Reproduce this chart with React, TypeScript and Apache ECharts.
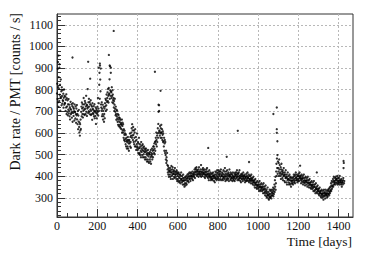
import React, { useEffect, useRef } from "react";
import * as echarts from "echarts";

// Dark rate per PMT (counts / s): each block covers 10 days, values spread over the block
const blockDays = 10;
const rateBlocks: number[][] = [
  [783, 828, 757, 897, 742, 812, 721, 858],
  [804, 748, 918, 777, 823, 703, 766, 847],
  [762, 793, 728, 811, 771, 736, 798, 752],
  [748, 782, 717, 763, 801, 731, 772, 739],
  [737, 768, 702, 754, 718, 779, 688, 761],
  [723, 698, 751, 682, 733, 709, 757, 691],
  [702, 731, 677, 719, 663, 712, 744, 687],
  [708, 692, 733, 671, 698, 724, 652, 738],
  [693, 718, 679, 712, 701, 658, 732, 697],
  [698, 667, 723, 688, 647, 713, 682, 729],
  [663, 688, 641, 702, 618, 681, 653, 707],
  [628, 603, 648, 588, 641, 612, 662, 619],
  [698, 722, 677, 741, 713, 688, 733, 672],
  [718, 703, 762, 687, 732, 708, 683, 748],
  [712, 739, 688, 723, 772, 698, 731, 679],
  [728, 713, 803, 719, 692, 742, 701, 758],
  [722, 698, 743, 687, 733, 709, 752, 683],
  [703, 728, 687, 722, 661, 738, 712, 693],
  [708, 688, 724, 677, 702, 733, 668, 697],
  [702, 679, 718, 642, 693, 711, 668, 703],
  [688, 722, 697, 762, 681, 713, 738, 702],
  [823, 878, 758, 912, 847, 793, 898, 732],
  [718, 703, 742, 678, 712, 687, 731, 662],
  [702, 678, 721, 652, 688, 713, 668, 738],
  [723, 758, 702, 752, 728, 778, 708, 743],
  [762, 788, 748, 803, 772, 741, 808, 778],
  [783, 848, 758, 908, 797, 772, 878, 792],
  [788, 762, 812, 771, 742, 798, 778, 753],
  [738, 762, 718, 748, 702, 731, 758, 712],
  [698, 682, 722, 688, 661, 708, 678, 703],
  [668, 652, 688, 638, 662, 683, 631, 672],
  [652, 638, 668, 628, 661, 622, 648, 642],
  [638, 618, 662, 602, 633, 648, 612, 641],
  [602, 578, 618, 568, 592, 611, 562, 598],
  [572, 548, 592, 538, 578, 562, 528, 568],
  [558, 538, 582, 528, 568, 552, 518, 561],
  [568, 552, 598, 538, 582, 558, 532, 588],
  [602, 622, 578, 641, 588, 612, 568, 628],
  [592, 558, 612, 548, 578, 602, 538, 618],
  [562, 538, 582, 522, 568, 548, 598, 532],
  [538, 522, 558, 508, 552, 528, 578, 502],
  [532, 508, 548, 498, 538, 518, 488, 558],
  [528, 512, 542, 498, 522, 548, 488, 532],
  [518, 502, 538, 488, 512, 528, 478, 522],
  [512, 488, 528, 478, 502, 518, 468, 508],
  [498, 478, 522, 468, 492, 508, 462, 502],
  [502, 478, 512, 468, 488, 522, 458, 498],
  [508, 492, 528, 478, 502, 518, 488, 538],
  [522, 538, 508, 552, 528, 502, 558, 518],
  [562, 578, 548, 602, 568, 538, 588, 558],
  [598, 622, 578, 642, 698, 602, 728, 612],
  [608, 588, 632, 598, 578, 622, 602, 638],
  [602, 578, 618, 568, 592, 608, 558, 598],
  [562, 538, 578, 518, 552, 568, 508, 558],
  [498, 478, 518, 462, 488, 472, 508, 452],
  [432, 418, 448, 408, 438, 398, 428, 422],
  [422, 408, 438, 398, 428, 388, 418, 448],
  [418, 402, 432, 408, 442, 388, 422, 412],
  [412, 428, 398, 422, 392, 438, 408, 418],
  [408, 398, 422, 388, 428, 412, 378, 418],
  [402, 388, 412, 378, 418, 398, 372, 408],
  [392, 378, 408, 368, 402, 388, 418, 382],
  [388, 372, 402, 378, 362, 392, 408, 382],
  [378, 362, 392, 352, 382, 368, 398, 358],
  [382, 392, 368, 402, 362, 388, 378, 408],
  [392, 398, 378, 412, 372, 402, 388, 418],
  [398, 388, 412, 378, 402, 418, 392, 402],
  [402, 412, 388, 422, 398, 382, 408, 402],
  [412, 418, 398, 432, 408, 392, 422, 438],
  [418, 432, 408, 442, 422, 402, 428, 412],
  [422, 408, 432, 398, 418, 442, 412, 422],
  [408, 422, 402, 432, 412, 452, 398, 418],
  [422, 408, 432, 402, 418, 438, 412, 428],
  [412, 418, 398, 432, 408, 392, 422, 408],
  [418, 402, 432, 408, 422, 438, 398, 412],
  [408, 392, 422, 402, 382, 412, 428, 398],
  [402, 408, 392, 418, 382, 398, 412, 388],
  [398, 388, 412, 382, 402, 418, 392, 402],
  [402, 378, 408, 392, 372, 398, 422, 388],
  [408, 392, 418, 382, 402, 428, 388, 412],
  [398, 418, 392, 428, 382, 408, 402, 422],
  [412, 388, 422, 398, 432, 382, 408, 402],
  [402, 418, 388, 412, 382, 398, 428, 392],
  [408, 398, 422, 388, 438, 402, 378, 412],
  [398, 422, 388, 408, 382, 428, 402, 392],
  [412, 388, 418, 402, 378, 408, 432, 398],
  [402, 408, 388, 418, 382, 398, 412, 392],
  [392, 408, 378, 402, 418, 388, 398, 382],
  [398, 392, 412, 378, 402, 418, 388, 408],
  [408, 398, 418, 392, 428, 402, 382, 412],
  [398, 412, 388, 418, 382, 402, 428, 392],
  [392, 402, 378, 408, 372, 398, 388, 412],
  [402, 388, 408, 378, 398, 418, 392, 402],
  [388, 402, 382, 408, 372, 392, 398, 378],
  [398, 388, 412, 378, 402, 382, 418, 392],
  [392, 398, 378, 408, 372, 388, 402, 382],
  [388, 378, 402, 368, 392, 408, 382, 388],
  [378, 368, 392, 362, 382, 398, 372, 378],
  [372, 358, 382, 348, 368, 388, 362, 372],
  [362, 348, 372, 342, 358, 378, 352, 362],
  [358, 342, 372, 348, 332, 362, 378, 352],
  [352, 338, 362, 332, 348, 368, 342, 352],
  [348, 332, 362, 338, 322, 352, 368, 342],
  [338, 322, 352, 328, 312, 342, 358, 332],
  [322, 308, 338, 302, 328, 318, 348, 312],
  [312, 298, 328, 292, 318, 308, 338, 302],
  [318, 302, 332, 308, 338, 298, 322, 312],
  [328, 312, 338, 322, 348, 308, 332, 318],
  [342, 362, 328, 382, 352, 398, 338, 368],
  [422, 458, 402, 482, 438, 498, 412, 468],
  [438, 422, 462, 402, 478, 432, 452, 412],
  [418, 402, 442, 388, 432, 458, 408, 422],
  [412, 392, 428, 382, 418, 402, 438, 408],
  [402, 378, 418, 372, 408, 392, 428, 398],
  [392, 372, 408, 362, 398, 382, 418, 388],
  [388, 372, 402, 362, 382, 408, 368, 392],
  [382, 362, 398, 352, 378, 392, 368, 382],
  [378, 368, 392, 362, 398, 382, 408, 372],
  [388, 378, 402, 368, 408, 392, 418, 382],
  [392, 398, 382, 408, 372, 388, 402, 378],
  [402, 388, 412, 378, 398, 418, 392, 402],
  [392, 382, 402, 368, 388, 408, 378, 392],
  [388, 372, 402, 362, 392, 378, 408, 372],
  [382, 368, 392, 358, 378, 398, 372, 382],
  [378, 362, 392, 372, 352, 382, 398, 368],
  [372, 358, 382, 348, 368, 388, 362, 372],
  [362, 348, 372, 342, 358, 378, 352, 362],
  [358, 342, 372, 348, 332, 362, 378, 352],
  [352, 332, 362, 338, 322, 348, 368, 342],
  [342, 328, 352, 322, 338, 358, 332, 342],
  [332, 318, 342, 312, 328, 348, 322, 332],
  [322, 308, 332, 302, 318, 338, 312, 322],
  [318, 302, 332, 308, 292, 322, 338, 312],
  [322, 308, 328, 298, 318, 338, 312, 322],
  [318, 312, 332, 302, 322, 308, 338, 318],
  [332, 318, 342, 312, 328, 348, 322, 332],
  [352, 338, 368, 332, 358, 378, 342, 352],
  [372, 358, 388, 352, 378, 398, 362, 372],
  [378, 368, 392, 362, 382, 398, 372, 388],
  [382, 388, 368, 402, 362, 378, 392, 372],
  [378, 368, 392, 362, 382, 402, 372, 378],
  [372, 382, 362, 388, 368, 352, 378, 372],
  [372, 362, 382, 392, 438, 462, 368, 378],
];

// isolated high points
const outlierDays = [5, 8, 12, 77, 155, 165, 208, 213, 258, 262, 268, 282, 487, 505, 508, 515, 752, 844, 899, 955, 1076, 1093, 1093, 1093, 1096, 1209, 1292, 1425];
const outlierRates = [928, 958, 902, 949, 929, 851, 902, 921, 961, 912, 902, 1072, 883, 731, 702, 795, 531, 490, 610, 466, 688, 718, 618, 601, 562, 449, 418, 471];

const xTickValues = [0, 200, 400, 600, 800, 1000, 1200, 1400];
const yTickValues = [300, 400, 500, 600, 700, 800, 900, 1000, 1100];
const yMinorTickValues = [220, 240, 260, 280, 320, 340, 360, 380, 420, 440, 460, 480, 520, 540, 560, 580, 620, 640, 660, 680, 720, 740, 760, 780, 820, 840, 860, 880, 920, 940, 960, 980, 1020, 1040, 1060, 1080, 1120, 1140];
const xMin = 0;
const xMax = 1472;
const yMin = 212;
const yMax = 1150;

const FONT = "Liberation Serif";

export default function App() {
  const ref = useRef<HTMLDivElement>(null);
  useEffect(() => {
    if (!ref.current) return;
    const chart = echarts.init(ref.current, null, { renderer: "svg" });
    const points: number[][] = [];
    rateBlocks.forEach((vals, b) => {
      vals.forEach((v, j) => {
        points.push([b * blockDays + (j * blockDays) / vals.length, v]);
      });
    });
    outlierDays.forEach((d, i) => points.push([d, outlierRates[i]]));

    const axisColor = "#333";
    const gridLine = { show: true, lineStyle: { color: "#b8b8b8", width: 1, type: [2, 2] } };
    const labelStyle = {
      fontFamily: FONT,
      fontSize: 12,
      color: "#111",
      formatter: (v: number) => String(v),
    };

    chart.setOption({
      animation: false,
      backgroundColor: "#fff",
      textStyle: { fontFamily: FONT },
      grid: {
        left: 57,
        right: 21,
        top: 14,
        bottom: 39,
        show: true,
        borderColor: axisColor,
        borderWidth: 1,
        containLabel: false,
        outerBoundsMode: "none",
      },
      xAxis: [
        {
          type: "value",
          min: xMin,
          max: xMax,
          interval: 200,
          axisLine: { show: true, onZero: false, lineStyle: { color: axisColor } },
          axisTick: { show: true, inside: true, length: 8, customValues: xTickValues, lineStyle: { color: axisColor } },
          minorTick: { show: true, splitNumber: 4, length: 4, lineStyle: { color: axisColor } },
          axisLabel: { ...labelStyle, margin: 3, customValues: xTickValues },
          splitLine: gridLine,
        },
      ],
      yAxis: [
        {
          type: "value",
          min: yMin,
          max: yMax,
          axisLine: { show: true, onZero: false, lineStyle: { color: axisColor } },
          axisTick: { show: true, inside: true, length: 8, customValues: yTickValues, lineStyle: { color: axisColor } },
          axisLabel: { ...labelStyle, margin: 4, customValues: yTickValues },
          splitLine: gridLine,
        },
        {
          type: "value",
          min: yMin,
          max: yMax,
          position: "left",
          offset: 0,
          axisLine: { show: false },
          axisTick: { show: true, inside: true, length: 4, customValues: yMinorTickValues, lineStyle: { color: axisColor } },
          axisLabel: { show: false },
          splitLine: { show: false },
        },
      ],
      series: [
        {
          type: "scatter",
          xAxisIndex: 0,
          yAxisIndex: 0,
          symbol: "circle",
          symbolSize: 2.3,
          itemStyle: { color: "#000" },
          silent: true,
          data: points,
        },
      ],
      graphic: [
        {
          type: "text",
          x: 15,
          y: 13,
          rotation: Math.PI / 2,
          style: {
            text: "Dark rate / PMT [counts / s]",
            fontFamily: FONT,
            fontSize: 14,
            fill: "#111",
            textAlign: "right",
            textVerticalAlign: "middle",
            align: "right",
            verticalAlign: "middle",
          },
        },
        {
          type: "text",
          x: 352,
          y: 241,
          style: {
            text: "Time [days]",
            fontFamily: FONT,
            fontSize: 13.5,
            fill: "#111",
            textAlign: "right",
            textVerticalAlign: "middle",
            align: "right",
            verticalAlign: "middle",
          },
        },
      ],
    });
    return () => chart.dispose();
  }, []);
  return (
    <div
      ref={ref}
      style={{ position: "fixed", left: 0, top: 0, width: 374, height: 256 }}
    />
  );
}
